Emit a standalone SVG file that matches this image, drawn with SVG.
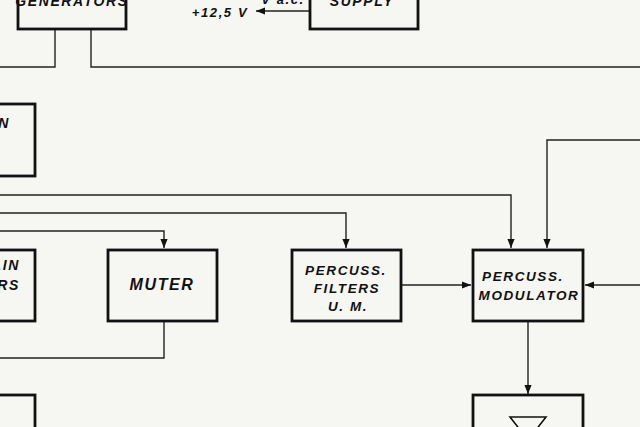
<svg xmlns="http://www.w3.org/2000/svg" width="640" height="427" viewBox="0 0 640 427">
<defs>
<marker id="ah" viewBox="0 0 10 10" refX="10" refY="5" markerWidth="9" markerHeight="9" markerUnits="userSpaceOnUse" orient="auto">
<path d="M0,1 L10,5 L0,9 Z" fill="#111"/>
</marker>
<style>
.box{fill:none;stroke:#111;stroke-width:2.8}
.ln{fill:none;stroke:#222;stroke-width:1.4}
.t{font-family:"Liberation Sans",Arial,sans-serif;font-weight:bold;font-style:italic;fill:#111;text-anchor:middle;letter-spacing:1.6px}
</style>
</defs>
<rect width="640" height="427" fill="#f6f6f3"/>
<g id="connectors">
<path class="ln" d="M55,29 V67 H0"/>
<path class="ln" d="M91,29 V67 H640"/>
<path class="ln" d="M310,11 H256" marker-end="url(#ah)"/>
<path class="ln" d="M0,195 H511 V248" marker-end="url(#ah)"/>
<path class="ln" d="M0,213 H346 V248" marker-end="url(#ah)"/>
<path class="ln" d="M0,231 H164 V248" marker-end="url(#ah)"/>
<path class="ln" d="M640,140 H547 V248" marker-end="url(#ah)"/>
<path class="ln" d="M401,285 H471" marker-end="url(#ah)"/>
<path class="ln" d="M640,285 H585" marker-end="url(#ah)"/>
<path class="ln" d="M164,321 V358 H0"/>
<path class="ln" d="M528,321 V394" marker-end="url(#ah)"/>
</g>
<g id="generators">
<rect class="box" x="18" y="-20" width="108" height="49"/>
<text class="t" x="72" y="6" font-size="14">GENERATORS</text>
</g>
<g id="supply">
<rect class="box" x="310" y="-20" width="108" height="49"/>
<text class="t" x="362" y="6" font-size="14">SUPPLY</text>
</g>
<text class="t" x="220" y="17" font-size="13" letter-spacing="0.5">+12,5 V</text>
<text class="t" x="283" y="4" font-size="13" letter-spacing="0.5">V a.c.</text>
<g id="left-top">
<rect class="box" x="-20" y="104" width="55" height="72"/>
<text class="t" x="10" y="128" font-size="14" text-anchor="end" style="text-anchor:end">MAIN</text>
</g>
<g id="left-mid">
<rect class="box" x="-20" y="250" width="55" height="71"/>
<text class="t" x="20" y="270" font-size="14" style="text-anchor:end">MAIN</text>
<text class="t" x="20" y="290" font-size="14" style="text-anchor:end">FILTERS</text>
</g>
<g id="left-bottom">
<rect class="box" x="-20" y="395" width="55" height="60"/>
</g>
<g id="muter">
<rect class="box" x="108" y="250" width="109" height="71"/>
<text class="t" x="162" y="290" font-size="16" letter-spacing="2">MUTER</text>
</g>
<g id="filters">
<rect class="box" x="292" y="250" width="109" height="71"/>
<text class="t" x="346" y="275" font-size="13.5">PERCUSS.</text>
<text class="t" x="347" y="293" font-size="13.5">FILTERS</text>
<text class="t" x="348" y="311" font-size="13.5">U. M.</text>
</g>
<g id="modulator">
<rect class="box" x="473" y="250" width="110" height="71"/>
<text class="t" x="523" y="281" font-size="13.5">PERCUSS.</text>
<text class="t" x="529" y="300" font-size="13.5">MODULATOR</text>
</g>
<g id="bottom-box">
<rect class="box" x="473" y="395" width="110" height="60"/>
<path d="M510,417 H546 L528,440 Z" fill="none" stroke="#111" stroke-width="1.6"/>
</g>
</svg>
